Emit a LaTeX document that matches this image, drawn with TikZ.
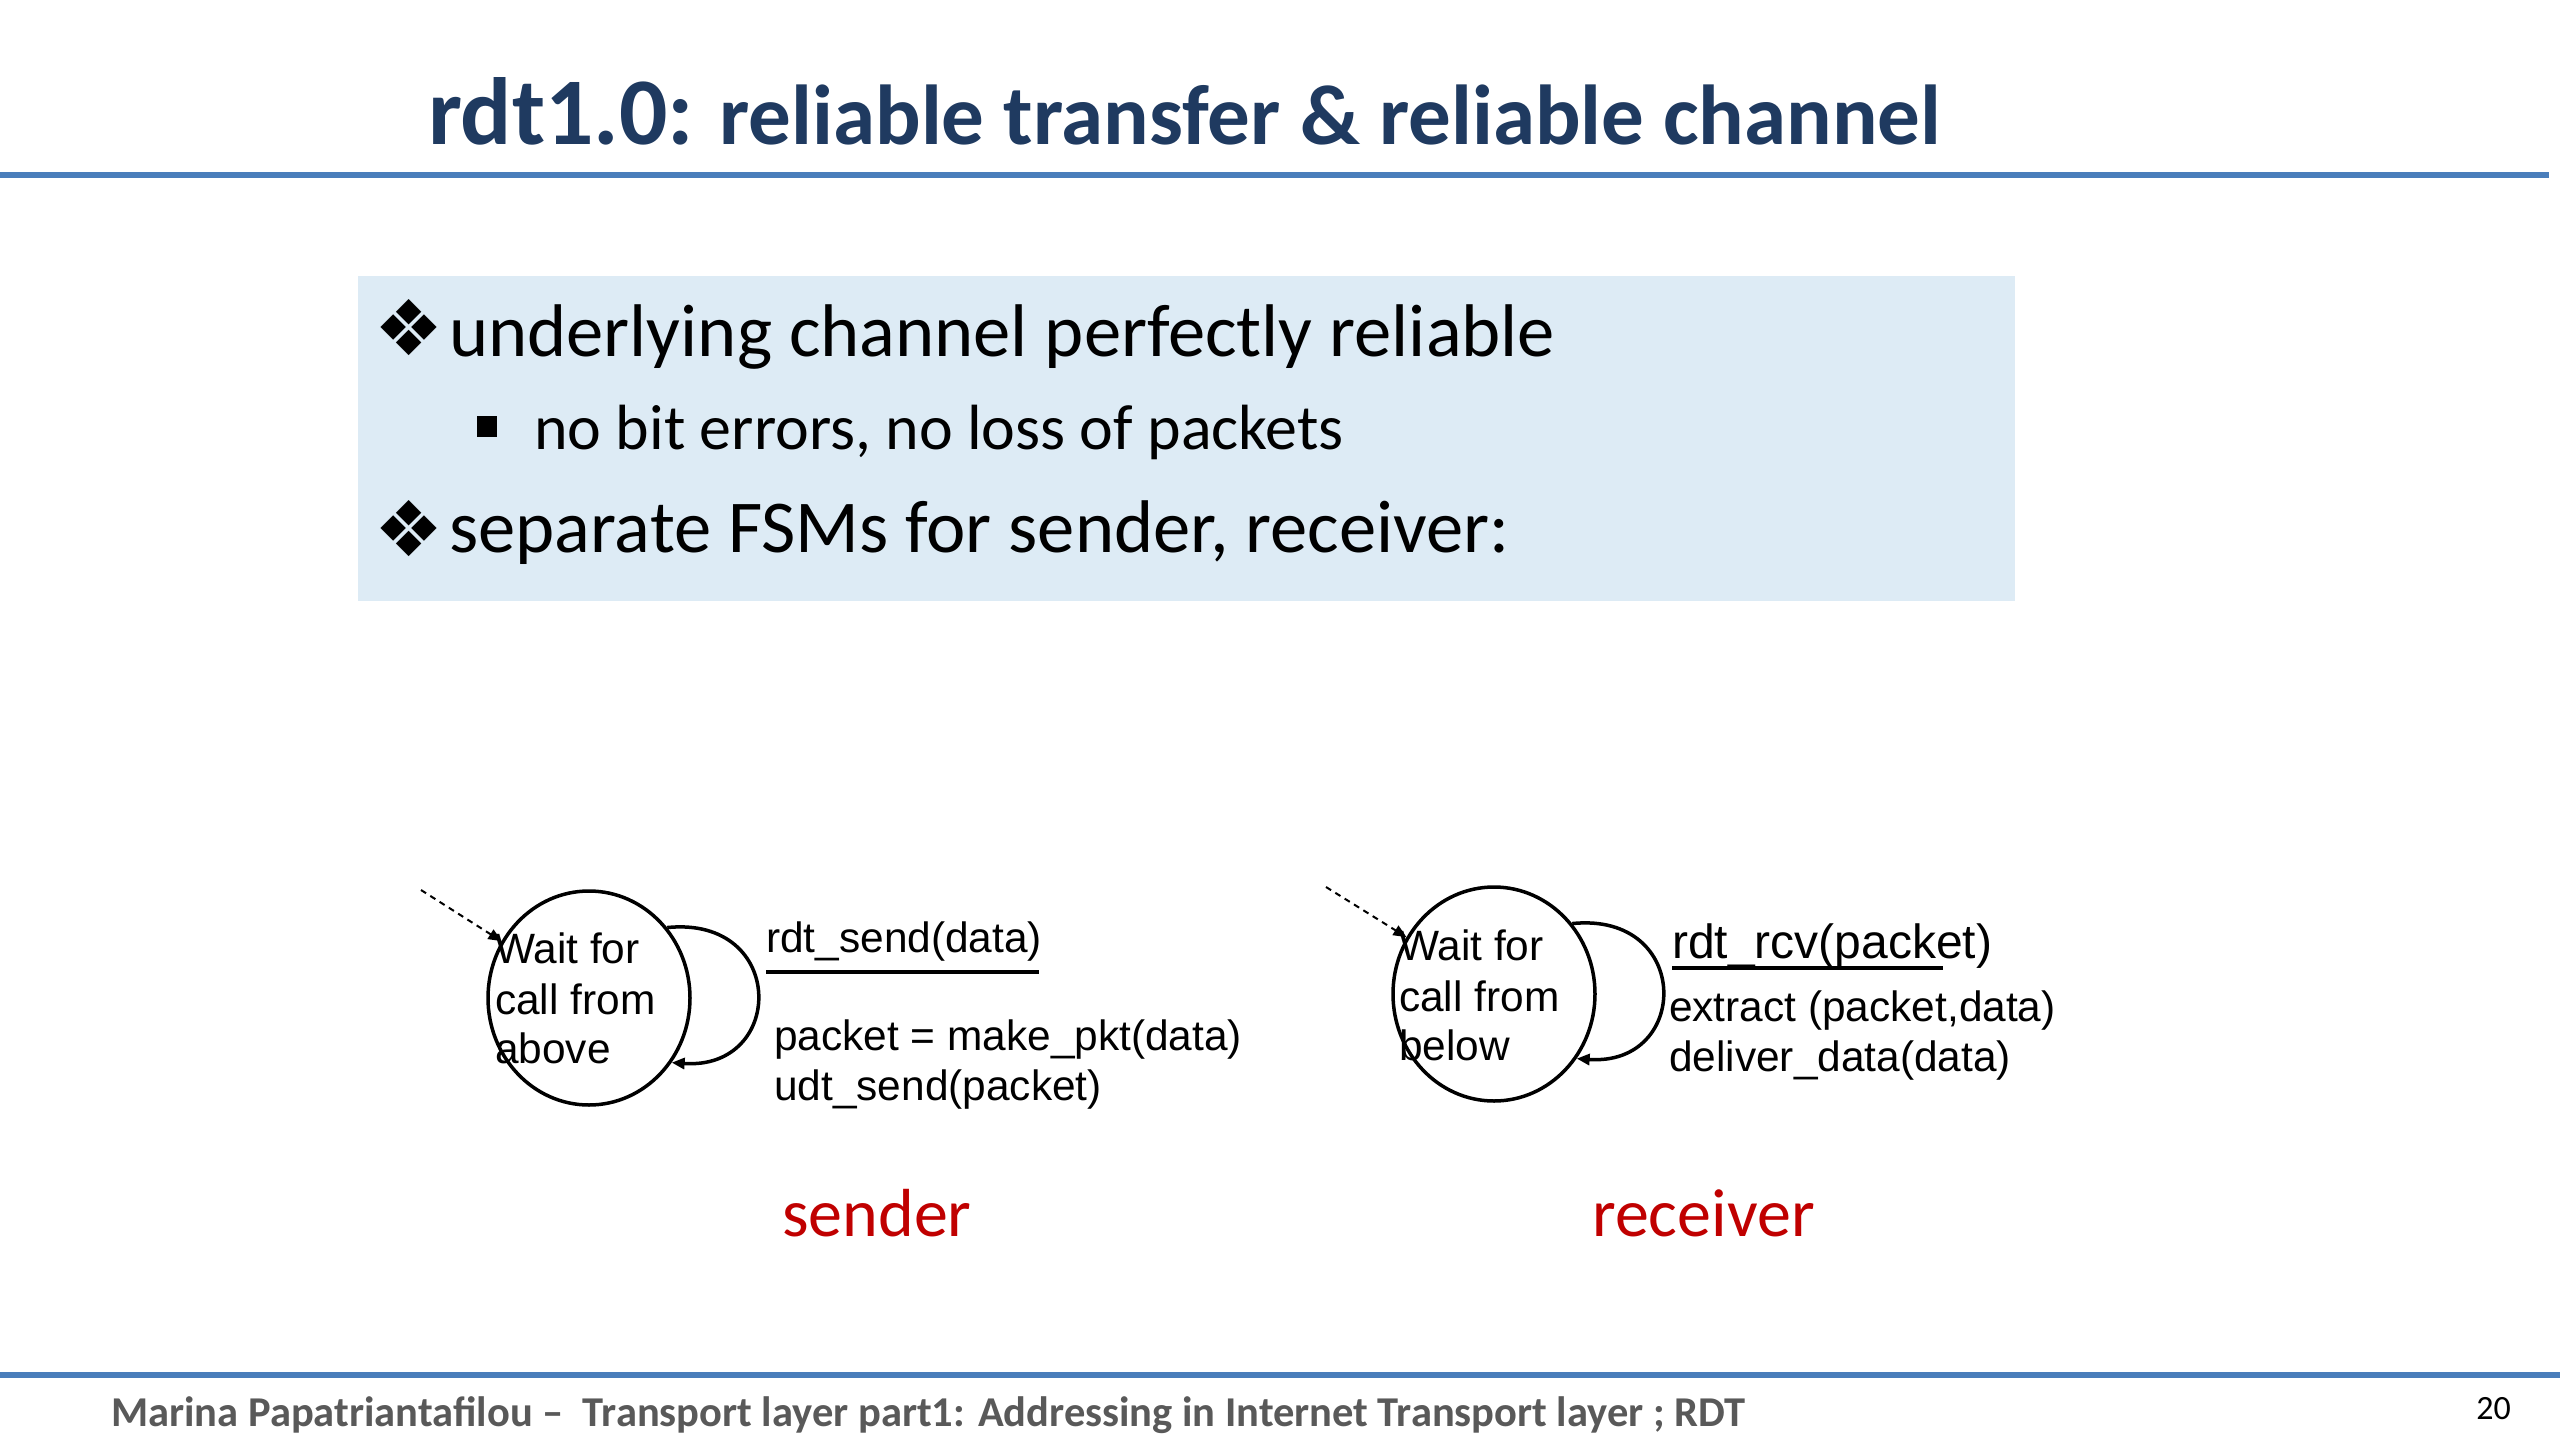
\documentclass[tikz,border=0pt]{standalone}
\usepackage{fontspec}
\setmainfont{Carlito}
\newfontfamily\arialf{Liberation Sans}
\newfontfamily\dejavu{DejaVu Sans}
\usetikzlibrary{arrows.meta,shapes.geometric}
\definecolor{titleblue}{HTML}{1F3A60}
\definecolor{rulecol}{HTML}{4A7EBB}
\definecolor{boxfill}{HTML}{DDEBF5}
\definecolor{redlab}{HTML}{C00000}
\definecolor{footgray}{HTML}{595959}
\begin{document}
\begin{tikzpicture}[x=1pt,y=-1pt,
  txt/.style={inner sep=0pt, anchor=base west},
  fsmtxt/.style={txt, font=\arialf\fontsize{42.4}{50}\selectfont},
  state/.style={draw, line width=3.5pt, ellipse, minimum width=202pt, minimum height=214pt, inner sep=0pt},
  loopedge/.style={line width=3.5pt, -{Triangle[length=13pt,width=11pt]}},
  initedge/.style={line width=2pt, dash pattern=on 6pt off 5pt, -{Triangle[length=13pt,width=11pt]}},
  bodytxt/.style={txt, font=\fontsize{74.6}{89}\selectfont},
  subtxt/.style={txt, font=\fontsize{63.9}{76}\selectfont},
  diam/.style={inner sep=0pt, font=\dejavu\fontsize{77}{77}\selectfont},
  rolelab/.style={txt, text=redlab, font=\fontsize{68}{80}\selectfont}
]
\useasboundingbox (0,0) rectangle (2560,1440);
\fill[white] (0,0) rectangle (2560,1440);

% title
\node[txt, text=titleblue, font=\bfseries] (title) at (428,144)
  {\fontsize{95.5}{100}\selectfont rdt1.0:\fontsize{85}{100}\selectfont{} reliable transfer \& reliable channel};
\fill[rulecol] (0,172) rectangle (2549,178);

% box
\fill[boxfill] (358,276) rectangle (2015,601);
\node[diam] (b1) at (409.5,328) {❖};
\node[bodytxt] (t1) at (449,356) {underlying channel perfectly reliable};
\fill[black] (477,416) rectangle (497,437);
\node[subtxt] (t2) at (534,449) {no bit errors, no loss of packets};
\node[diam] (b2) at (409.5,529) {❖};
\node[bodytxt] (t3) at (449,552) {separate FSMs for sender, receiver:};

% sender FSM
\node[state] (s1) at (589,998) {};
\node[fsmtxt] (s1a) at (495,963) {Wait for};
\node[fsmtxt] (s1b) at (495,1014) {call from};
\node[fsmtxt] (s1c) at (495,1063) {above};
\coordinate (d1) at (421,890);
\draw[initedge] (d1) -- (s1.147);
\draw[loopedge] (s1.42) .. controls +(120,-12) and +(114,8) .. (s1.-38);
\node[fsmtxt] (e1) at (766,952) {rdt\_send(data)};
\draw[line width=4pt] (766,972) -- (1039,972);
\node[fsmtxt] (a1) at (774,1050) {packet = make\_pkt(data)};
\node[fsmtxt] (a2) at (774,1100) {udt\_send(packet)};
\node[rolelab] (sl) at (782,1236) {sender};

% receiver FSM
\node[state] (r1) at (1494,994) {};
\node[fsmtxt] (r1a) at (1399,960) {Wait for};
\node[fsmtxt] (r1b) at (1399,1011) {call from};
\node[fsmtxt] (r1c) at (1399,1060) {below};
\coordinate (d2) at (1326,887);
\draw[initedge] (d2) -- (r1.147);
\draw[loopedge] (r1.42) .. controls +(120,-12) and +(114,8) .. (r1.-38);
\node[txt, font=\arialf\fontsize{48}{56}\selectfont] (e2) at (1672,958) {rdt\_rcv(packet)};
\draw[line width=3.5pt] (1672,968) -- (1943,968);
\node[fsmtxt] (a3) at (1669,1021) {extract (packet,data)};
\node[fsmtxt] (a4) at (1669,1071) {deliver\_data(data)};
\node[rolelab] (rl) at (1592,1236) {receiver};

% footer
\fill[rulecol] (0,1372) rectangle (2560,1378);
\node[txt, text=footgray, font=\bfseries\fontsize{42.5}{50}\selectfont] (foot) at (111,1426)
  {Marina Papatriantafilou – \ Transport layer part1: Addressing in Internet Transport layer ; RDT};
\node[inner sep=0pt, anchor=base east, font=\fontsize{34}{40}\selectfont] (pg) at (2511,1419) {20};
\end{tikzpicture}
\end{document}
